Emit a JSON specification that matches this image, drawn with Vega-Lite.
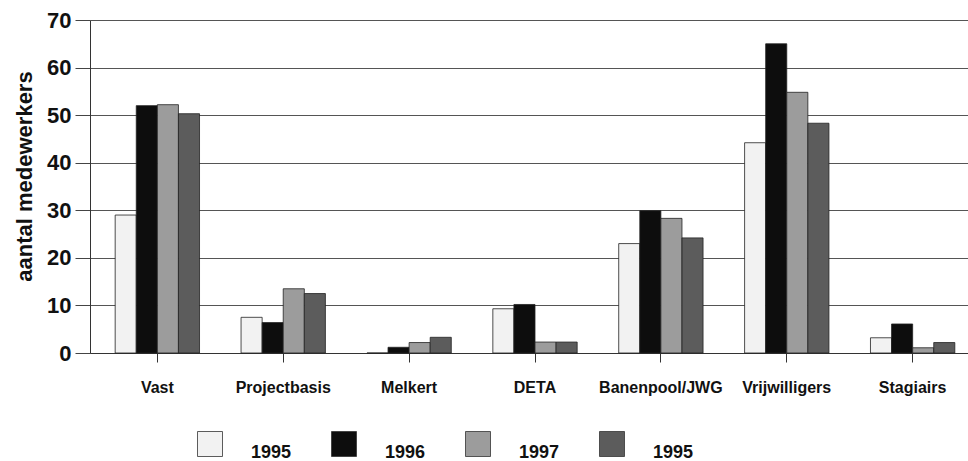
{
  "$schema": "https://vega.github.io/schema/vega-lite/v6.json",
  "autosize": "none",
  "width": 878,
  "height": 333,
  "padding": {"left": 90, "top": 20, "right": 0, "bottom": 108},
  "background": "white",
  "data": {
    "values": [
      {"categorie": "Vast", "jaar": "1995", "aantal": 29},
      {"categorie": "Vast", "jaar": "1996", "aantal": 52},
      {"categorie": "Vast", "jaar": "1997", "aantal": 52.2},
      {"categorie": "Vast", "jaar": "1995b", "aantal": 50.3},
      {"categorie": "Projectbasis", "jaar": "1995", "aantal": 7.5},
      {"categorie": "Projectbasis", "jaar": "1996", "aantal": 6.4},
      {"categorie": "Projectbasis", "jaar": "1997", "aantal": 13.5},
      {"categorie": "Projectbasis", "jaar": "1995b", "aantal": 12.5},
      {"categorie": "Melkert", "jaar": "1995", "aantal": 0},
      {"categorie": "Melkert", "jaar": "1996", "aantal": 1.2},
      {"categorie": "Melkert", "jaar": "1997", "aantal": 2.2},
      {"categorie": "Melkert", "jaar": "1995b", "aantal": 3.3},
      {"categorie": "DETA", "jaar": "1995", "aantal": 9.3},
      {"categorie": "DETA", "jaar": "1996", "aantal": 10.2},
      {"categorie": "DETA", "jaar": "1997", "aantal": 2.3},
      {"categorie": "DETA", "jaar": "1995b", "aantal": 2.3},
      {"categorie": "Banenpool/JWG", "jaar": "1995", "aantal": 23},
      {"categorie": "Banenpool/JWG", "jaar": "1996", "aantal": 29.9},
      {"categorie": "Banenpool/JWG", "jaar": "1997", "aantal": 28.3},
      {"categorie": "Banenpool/JWG", "jaar": "1995b", "aantal": 24.2},
      {"categorie": "Vrijwilligers", "jaar": "1995", "aantal": 44.2},
      {"categorie": "Vrijwilligers", "jaar": "1996", "aantal": 65},
      {"categorie": "Vrijwilligers", "jaar": "1997", "aantal": 54.8},
      {"categorie": "Vrijwilligers", "jaar": "1995b", "aantal": 48.3},
      {"categorie": "Stagiairs", "jaar": "1995", "aantal": 3.2},
      {"categorie": "Stagiairs", "jaar": "1996", "aantal": 6.1},
      {"categorie": "Stagiairs", "jaar": "1997", "aantal": 1.1},
      {"categorie": "Stagiairs", "jaar": "1995b", "aantal": 2.2}
    ]
  },
  "mark": {"type": "bar", "stroke": "#222222", "strokeWidth": 0.8},
  "encoding": {
    "x": {
      "field": "categorie",
      "type": "nominal",
      "sort": ["Vast", "Projectbasis", "Melkert", "DETA", "Banenpool/JWG", "Vrijwilligers", "Stagiairs"],
      "scale": {"paddingInner": 0.33, "paddingOuter": 0.2, "range": [0, 890]},
      "axis": {
        "title": null,
        "labelAngle": 0,
        "labelFont": "Liberation Sans",
        "labelFontWeight": "bold",
        "labelFontSize": 16,
        "labelColor": "#111111",
        "labelPadding": 17,
        "labelOverlap": false,
        "labelLimit": 0,
        "tickSize": 9,
        "tickColor": "#333333",
        "domainColor": "#333333",
        "domainWidth": 1.2,
        "grid": false
      }
    },
    "xOffset": {
      "field": "jaar",
      "type": "nominal",
      "sort": ["1995", "1996", "1997", "1995b"],
      "scale": {"paddingInner": 0, "paddingOuter": 0}
    },
    "y": {
      "field": "aantal",
      "type": "quantitative",
      "scale": {"domain": [0, 70], "nice": false},
      "axis": {
        "title": "aantal medewerkers",
        "titleFont": "Liberation Sans",
        "titleFontWeight": "bold",
        "titleFontSize": 22,
        "titleColor": "#111111",
        "titlePadding": 10,
        "titleY": 156,
        "values": [0, 10, 20, 30, 40, 50, 60, 70],
        "labelFont": "Liberation Sans",
        "labelFontWeight": "bold",
        "labelFontSize": 22,
        "labelColor": "#111111",
        "labelPadding": 4,
        "tickSize": 15,
        "tickColor": "#444444",
        "domainColor": "#333333",
        "grid": true,
        "gridColor": "#555555",
        "gridWidth": 1
      }
    },
    "color": {
      "field": "jaar",
      "type": "nominal",
      "scale": {
        "domain": ["1995", "1996", "1997", "1995b"],
        "range": ["#f2f2f2", "#0d0d0d", "#9c9c9c", "#5c5c5c"]
      },
      "legend": {
        "title": null,
        "orient": "none",
        "legendX": 107,
        "legendY": 411,
        "direction": "horizontal",
        "columns": 4,
        "symbolType": "square",
        "symbolSize": 625,
        "symbolStrokeColor": "#333333",
        "symbolStrokeWidth": 0.8,
        "labelFont": "Liberation Sans",
        "labelFontWeight": "bold",
        "labelFontSize": 18,
        "labelColor": "#111111",
        "labelOffset": 28,
        "labelBaseline": "top",
        "columnPadding": 37,
        "labelExpr": "datum.label == '1995b' ? '1995' : datum.label"
      }
    }
  },
  "config": {
    "view": {"stroke": null}
  }
}
